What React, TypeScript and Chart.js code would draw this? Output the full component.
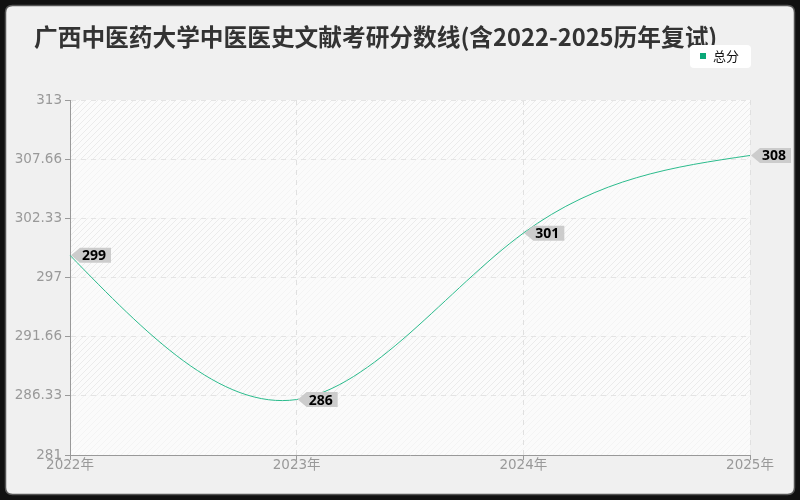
import { useEffect, useRef } from 'react';
import { Chart, registerables } from 'chart.js';

Chart.register(...registerables);

const years = ['2022年', '2023年', '2024年', '2025年'];
const totalScores = [299, 286, 301, 308];
const yTickValues = [281, 286.33, 291.66, 297, 302.33, 307.66, 313];
const yTickLabels = ['281', '286.33', '291.66', '297', '302.33', '307.66', '313'];
const seriesName = '总分';
const titleText = '广西中医药大学中医医史文献考研分数线(含2022-2025历年复试)';

const CJK = '"Noto Sans CJK SC", "Noto Sans", sans-serif';
const TICK_FONT = '"DejaVu Sans", "Noto Sans CJK SC", sans-serif';
const LINE_COLOR = '#2bbb8c';

function roundRect(ctx: CanvasRenderingContext2D, x: number, y: number, w: number, h: number, r: number) {
  ctx.beginPath();
  ctx.moveTo(x + r, y);
  ctx.lineTo(x + w - r, y);
  ctx.quadraticCurveTo(x + w, y, x + w, y + r);
  ctx.lineTo(x + w, y + h - r);
  ctx.quadraticCurveTo(x + w, y + h, x + w - r, y + h);
  ctx.lineTo(x + r, y + h);
  ctx.quadraticCurveTo(x, y + h, x, y + h - r);
  ctx.lineTo(x, y + r);
  ctx.quadraticCurveTo(x, y, x + r, y);
  ctx.closePath();
}

function makePattern(ctx: CanvasRenderingContext2D, bg: string, fg: string) {
  const p = document.createElement('canvas');
  p.width = 6;
  p.height = 6;
  const pc = p.getContext('2d')!;
  pc.fillStyle = bg;
  pc.fillRect(0, 0, 6, 6);
  pc.strokeStyle = fg;
  pc.lineWidth = 1;
  pc.beginPath();
  pc.moveTo(0, 6);
  pc.lineTo(6, 0);
  pc.moveTo(-1, 1);
  pc.lineTo(1, -1);
  pc.moveTo(5, 7);
  pc.lineTo(7, 5);
  pc.stroke();
  return ctx.createPattern(p, 'repeat') || bg;
}

// natural cubic spline slopes through pixel points
function naturalSlopes(xs: number[], ys: number[]) {
  const n = xs.length;
  const h: number[] = [];
  for (let i = 0; i < n - 1; i++) h.push(xs[i + 1] - xs[i]);
  const M = new Array(n).fill(0);
  if (n > 2) {
    const a: number[] = [], b: number[] = [], c: number[] = [], d: number[] = [];
    for (let i = 1; i < n - 1; i++) {
      a.push(h[i - 1]);
      b.push(2 * (h[i - 1] + h[i]));
      c.push(h[i]);
      d.push(6 * ((ys[i + 1] - ys[i]) / h[i] - (ys[i] - ys[i - 1]) / h[i - 1]));
    }
    const m = b.length;
    for (let i = 1; i < m; i++) {
      const w = a[i] / b[i - 1];
      b[i] -= w * c[i - 1];
      d[i] -= w * d[i - 1];
    }
    const sol = new Array(m).fill(0);
    sol[m - 1] = d[m - 1] / b[m - 1];
    for (let i = m - 2; i >= 0; i--) sol[i] = (d[i] - c[i] * sol[i + 1]) / b[i];
    for (let i = 0; i < m; i++) M[i + 1] = sol[i];
  }
  const slopes: number[] = [];
  for (let i = 0; i < n; i++) {
    if (i < n - 1) {
      slopes.push((ys[i + 1] - ys[i]) / h[i] - (h[i] * (2 * M[i] + M[i + 1])) / 6);
    } else {
      slopes.push((ys[i] - ys[i - 1]) / h[i - 1] + (h[i - 1] * (M[i - 1] + 2 * M[i])) / 6);
    }
  }
  return slopes;
}

// frame, title, banded plot background, legend
const decorPlugin = {
  id: 'decor',
  beforeDraw(chart: Chart) {
    const { ctx, width, height, chartArea } = chart;
    const y = chart.scales.y;
    ctx.save();
    ctx.fillStyle = '#111';
    ctx.fillRect(0, 0, width, height);
    roundRect(ctx, 5.5, 5.5, width - 11, height - 11, 7);
    ctx.fillStyle = '#f0f0f0';
    ctx.fill();
    ctx.lineWidth = 1.5;
    ctx.strokeStyle = '#555';
    ctx.stroke();

    const strong = makePattern(ctx, '#fbfbfb', '#ebebeb');
    const faint = makePattern(ctx, '#fbfbfb', '#f4f4f4');
    const w = chartArea.right - chartArea.left;
    for (let k = 0; k < yTickValues.length - 1; k++) {
      const top = y.getPixelForValue(yTickValues[yTickValues.length - 1 - k]);
      const bot = y.getPixelForValue(yTickValues[yTickValues.length - 2 - k]);
      ctx.fillStyle = k % 2 === 0 ? strong : faint;
      ctx.fillRect(chartArea.left, top, w, bot - top);
    }

    ctx.fillStyle = '#333';
    ctx.font = `bold 23.7px ${CJK}`;
    ctx.textBaseline = 'middle';
    ctx.textAlign = 'left';
    ctx.fillText(titleText, 34, 37);

    roundRect(ctx, 690, 45, 61, 23, 4);
    ctx.fillStyle = '#fff';
    ctx.fill();
    ctx.fillStyle = '#0aa878';
    ctx.fillRect(700, 53, 6, 6);
    ctx.fillStyle = '#111';
    ctx.font = `13px ${CJK}`;
    ctx.fillText(seriesName, 713, 56);
    ctx.restore();
  },
  // use natural-spline handles instead of Chart.js' default spline
  beforeDatasetDraw(chart: Chart, args: any) {
    const meta = chart.getDatasetMeta(args.index);
    const line: any = meta.dataset;
    if (line && line.updateControlPoints) line.updateControlPoints(chart.chartArea, 'x');
    const pts: any[] = meta.data as any[];
    if (pts.length < 2) return;
    const xs = pts.map((p) => p.x);
    const ys = pts.map((p) => p.y);
    const s = naturalSlopes(xs, ys);
    pts.forEach((p, i) => {
      const hPrev = i > 0 ? (xs[i] - xs[i - 1]) / 3 : 0;
      const hNext = i < pts.length - 1 ? (xs[i + 1] - xs[i]) / 3 : 0;
      p.cp1x = p.x - hPrev;
      p.cp1y = p.y - s[i] * hPrev;
      p.cp2x = p.x + hNext;
      p.cp2y = p.y + s[i] * hNext;
    });
  },
};

// grey value tags pointing at each point
const tagPlugin = {
  id: 'tags',
  afterDatasetsDraw(chart: Chart) {
    const { ctx } = chart;
    const meta = chart.getDatasetMeta(0);
    ctx.save();
    meta.data.forEach((pt: any, i: number) => {
      const x = pt.x + 1;
      const y = pt.y;
      const w = 40;
      const h = 15;
      ctx.beginPath();
      ctx.moveTo(x, y);
      ctx.lineTo(x + 9, y - h / 2);
      ctx.lineTo(x + w, y - h / 2);
      ctx.lineTo(x + w, y + h / 2);
      ctx.lineTo(x + 9, y + h / 2);
      ctx.closePath();
      ctx.fillStyle = '#cccccc';
      ctx.fill();
      ctx.fillStyle = '#000';
      ctx.font = `bold 14px "Noto Sans", sans-serif`;
      ctx.textBaseline = 'middle';
      ctx.textAlign = 'left';
      ctx.fillText(String(totalScores[i]), x + 11, y + 1);
    });
    ctx.restore();
  },
};

export default function App() {
  const canvasRef = useRef<HTMLCanvasElement>(null);
  const chartRef = useRef<Chart | null>(null);

  useEffect(() => {
    document.body.style.margin = '0';
    if (!canvasRef.current) return;
    const ctx = canvasRef.current.getContext('2d');
    if (!ctx) return;
    if (chartRef.current) chartRef.current.destroy();

    chartRef.current = new Chart(ctx, {
      type: 'line',
      data: {
        labels: years,
        datasets: [
          {
            label: seriesName,
            data: totalScores,
            borderColor: LINE_COLOR,
            borderWidth: 1,
            tension: 0.3,
            pointRadius: 0,
            fill: false,
          },
        ],
      },
      options: {
        responsive: false,
        animation: false,
        devicePixelRatio: 1,
        layout: { padding: { left: 0, right: 50, top: 100, bottom: 0 } },
        plugins: {
          legend: { display: false },
          title: { display: false },
          tooltip: { enabled: false },
        },
        scales: {
          x: {
            type: 'category',
            offset: false,
            afterFit: (scale: any) => {
              scale.height = 45;
            },
            grid: {
              color: '#e0e0e0',
              tickColor: '#999',
              tickLength: 5,
            },
            border: { color: '#999', dash: [5, 5] },
            ticks: {
              color: '#999',
              font: { family: TICK_FONT, size: 13.5 },
              padding: -3,
              maxRotation: 0,
            },
          },
          y: {
            min: 281,
            max: 313,
            afterFit: (scale: any) => {
              scale.width = 70;
            },
            afterBuildTicks: (scale: any) => {
              scale.ticks = yTickValues.map((v) => ({ value: v }));
            },
            grid: {
              color: '#e4e4e4',
              tickColor: '#999',
              tickLength: 5,
            },
            border: { color: '#999', dash: [5, 5] },
            ticks: {
              color: '#999',
              font: { family: TICK_FONT, size: 13.5 },
              padding: 3,
              callback: (_v: any, i: number) => yTickLabels[i],
            },
          },
        },
      },
      plugins: [decorPlugin, tagPlugin],
    });

    return () => {
      if (chartRef.current) {
        chartRef.current.destroy();
        chartRef.current = null;
      }
    };
  }, []);

  return (
    <div style={{ width: 800, height: 500 }}>
      <canvas ref={canvasRef} width={800} height={500} style={{ display: 'block' }} />
    </div>
  );
}
